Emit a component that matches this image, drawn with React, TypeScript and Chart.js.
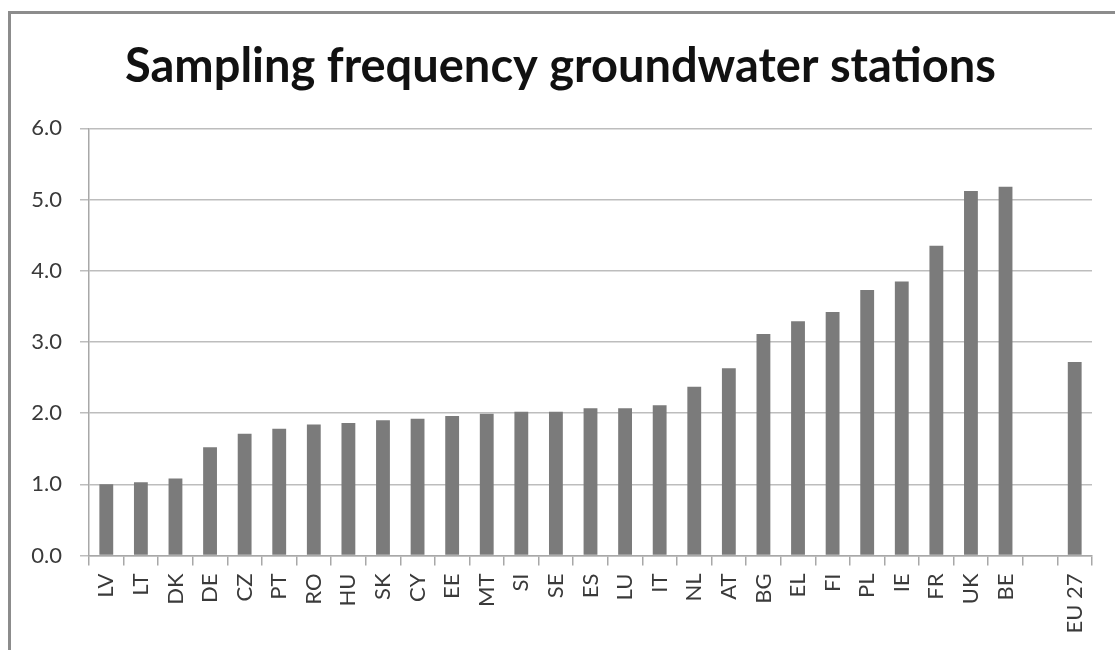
import React, { useEffect, useRef } from "react";
import { Chart, registerables } from "chart.js";

Chart.register(...registerables);

const titleText = "Sampling frequency groundwater stations";
const categories = [
  "LV", "LT", "DK", "DE", "CZ", "PT", "RO", "HU", "SK", "CY", "EE", "MT", "SI", "SE",
  "ES", "LU", "IT", "NL", "AT", "BG", "EL", "FI", "PL", "IE", "FR", "UK", "BE", "", "EU 27",
];
const frequencyValues: (number | null)[] = [
  1.0, 1.03, 1.08, 1.52, 1.71, 1.78, 1.84, 1.86, 1.9, 1.92, 1.96, 1.99, 2.02, 2.02,
  2.07, 2.07, 2.11, 2.37, 2.63, 3.11, 3.29, 3.42, 3.73, 3.85, 4.35, 5.12, 5.18, null, 2.72,
];
const yMin = 0;
const yMax = 6;
const yStep = 1;

export default function App() {
  const ref = useRef<HTMLCanvasElement | null>(null);

  useEffect(() => {
    if (!ref.current) return;
    const chart = new Chart(ref.current, {
      type: "bar",
      data: {
        labels: categories,
        datasets: [
          {
            data: frequencyValues,
            backgroundColor: "#7b7b7b",
            borderWidth: 0,
            barPercentage: 0.4,
            categoryPercentage: 1,
          },
        ],
      },
      options: {
        responsive: false,
        animation: false,
        layout: { padding: { left: 29, right: 23, top: 0, bottom: 0 } },
        plugins: {
          legend: { display: false },
          tooltip: { enabled: false },
          title: {
            display: true,
            text: titleText,
            color: "#111111",
            font: { family: "Lato", size: 47, weight: "bold", lineHeight: 1.2 },
            padding: { top: 39, bottom: 33 },
          },
        },
        scales: {
          x: {
            offset: true,
            afterFit: (axis: any) => {
              axis.height = 94.5;
            },
            grid: {
              display: true,
              drawOnChartArea: false,
              drawTicks: true,
              tickLength: 10,
              color: "#a8a8a8",
              lineWidth: 1.5,
              offset: true,
            },
            border: { display: true, color: "#a8a8a8", width: 1.5 },
            ticks: {
              autoSkip: false,
              minRotation: 90,
              maxRotation: 90,
              padding: 8,
              color: "#3a3a3a",
              font: { family: "Lato", size: 22 },
            },
          },
          y: {
            min: yMin,
            max: yMax,
            afterFit: (axis: any) => {
              axis.width = 60;
            },
            grid: {
              color: "#bdbdbd",
              lineWidth: 1.5,
              drawTicks: true,
              tickLength: 9,
            },
            border: { display: true, color: "#a8a8a8", width: 1.5 },
            ticks: {
              stepSize: yStep,
              padding: 18,
              color: "#3a3a3a",
              font: { family: "Lato", size: 22 },
              callback: (v: any) => Number(v).toFixed(1),
            },
          },
        },
      },
    });
    return () => chart.destroy();
  }, []);

  return (
    <div style={{ position: "absolute", left: 0, top: 0, width: 1115, height: 650, overflow: "hidden", background: "#ffffff" }}>
      <canvas
        ref={ref}
        width={1115}
        height={650}
        style={{ position: "absolute", left: 0, top: 0, display: "block" }}
      />
      <div style={{ position: "absolute", left: 8, top: 11, width: 1107, height: 3, background: "#8c8c8c" }} />
      <div style={{ position: "absolute", left: 8, top: 11, width: 3, height: 639, background: "#8c8c8c" }} />
    </div>
  );
}
